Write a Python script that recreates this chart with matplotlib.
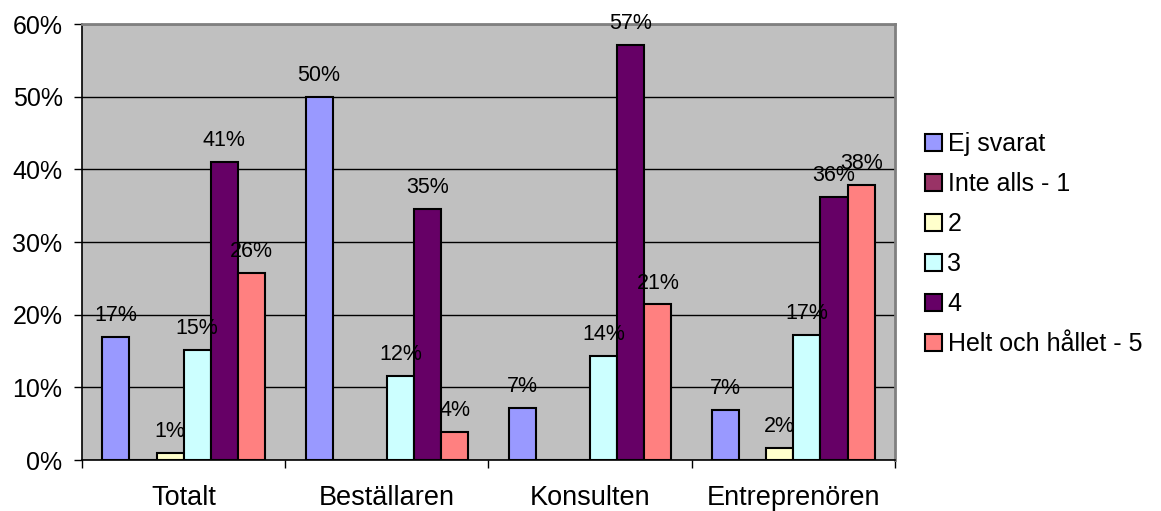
import matplotlib
matplotlib.use("Agg")
import matplotlib.pyplot as plt
import numpy as np
from matplotlib.ticker import FuncFormatter, FixedLocator

plt.rcParams['font.family'] = ['Liberation Sans', 'DejaVu Sans']

# Survey answers per respondent group, in percent
groups = ["Totalt", "Beställaren", "Konsulten", "Entreprenören"]
series_names = ["Ej svarat", "Inte alls - 1", "2", "3", "4", "Helt och hållet - 5"]
ej_svarat = [16.9, 50.0, 7.1, 6.9]
inte_alls = [0.0, 0.0, 0.0, 0.0]
svar_2 = [0.9, 0.0, 0.0, 1.7]
svar_3 = [15.2, 11.5, 14.3, 17.2]
svar_4 = [41.0, 34.6, 57.1, 36.2]
helt = [25.8, 3.8, 21.4, 37.9]
colors = ["#9999FF", "#993366", "#FFFFCC", "#CCFFFF", "#660066", "#FF8080"]

series = [ej_svarat, inte_alls, svar_2, svar_3, svar_4, helt]

W, H = 1161, 511
fig = plt.figure(figsize=(W / 100, H / 100), dpi=100)
ax = fig.add_axes([82 / W, (H - 460) / H, (895 - 82) / W, (460 - 24) / H])
ax.set_facecolor("#C0C0C0")

n = len(series)
w = 1.0 / (n + 1.5)
x = np.arange(len(groups))
handles = []
for j, (vals, col, name) in enumerate(zip(series, colors, series_names)):
    pos = x + (j - (n - 1) / 2) * w
    bars = ax.bar(pos, vals, width=w, color=col, edgecolor="black",
                  linewidth=1.5, label=name, zorder=3)
    handles.append(bars)
    for xi, v in zip(pos, vals):
        if v > 0:
            ax.annotate(f"{v:.0f}%", (xi, v), xytext=(0, 11.5),
                        textcoords="offset points", ha="center",
                        va="baseline", fontsize=15.5, color="black",
                        zorder=4, annotation_clip=False)

ax.set_xlim(-0.5, len(groups) - 0.5)
ax.set_ylim(0, 60)
ax.set_yticks(np.arange(0, 61, 10))
ax.yaxis.set_major_formatter(FuncFormatter(lambda v, p: f"{v:.0f}%"))
ax.grid(axis="y", color="black", linewidth=1.0, zorder=1)
ax.set_axisbelow(True)

ax.set_xticks(x)
ax.set_xticklabels(groups, fontsize=19.5)
ax.xaxis.set_minor_locator(FixedLocator(np.arange(-0.5, len(groups), 1.0)))
ax.tick_params(axis="x", which="major", length=0, pad=18)
ax.tick_params(axis="x", which="minor", length=6, width=1.0, direction="out")
ax.tick_params(axis="y", length=6, width=1.0, direction="out", pad=8,
               labelsize=18)

for side in ("left", "bottom"):
    ax.spines[side].set_color("black")
    ax.spines[side].set_linewidth(1.2)
for side in ("top", "right"):
    ax.spines[side].set_color("#808080")
    ax.spines[side].set_linewidth(2.0)

fig.legend(handles=handles, labels=series_names, loc="center left",
           bbox_to_anchor=(925 / W, 1 - 244 / H), frameon=False,
           fontsize=18, borderpad=0, handlelength=0.68, handleheight=0.68,
           handletextpad=0.22, labelspacing=0.64, borderaxespad=0)

fig.savefig("out.png", dpi=100, facecolor="white")
